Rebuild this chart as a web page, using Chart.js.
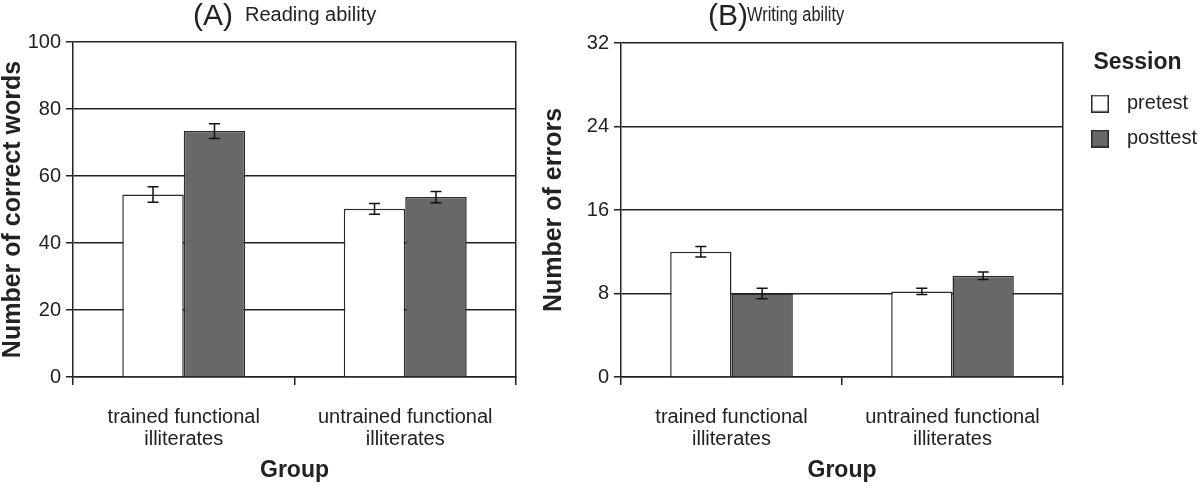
<!DOCTYPE html>
<html>
<head>
<meta charset="utf-8">
<script src="https://cdn.jsdelivr.net/npm/chart.js@4.4.1/dist/chart.umd.min.js"></script>
<style>
    html, body { margin: 0; padding: 0; background: #fff; }
    #wrap {
        position: relative; width: 1200px; height: 488px; overflow: hidden;
        font-family: 'Liberation Sans', Arial, sans-serif; color: #222;
    }
    canvas { position: absolute; top: 0; }
    #chartA { left: 0; }
    #chartB { left: 530px; }
    .panel { position: absolute; top: 0; font-size: 30px; line-height: 30px; white-space: nowrap; }
    .sub { position: absolute; font-size: 20px; line-height: 20px; white-space: nowrap; }
    .narrow { transform: scaleX(0.82); transform-origin: left top; }
</style>
</head>
<body>
<div id="wrap">
    <canvas id="chartA" width="530" height="488"></canvas>
    <canvas id="chartB" width="670" height="488"></canvas>
    <span class="panel" style="left:193px">(A)</span>
    <span class="sub" style="left:245px; top:4px">Reading ability</span>
    <span class="panel" style="left:708px">(B)</span>
    <span class="sub narrow" style="left:747px; top:4px">Writing ability</span>
</div>
<script>
// Categories
const groups = [['trained functional', 'illiterates'], ['untrained functional', 'illiterates']];

// (A) Reading ability - number of correct words
const readingPre = [54.5, 50.2];
const readingPreErr = [2.3, 1.6];
const readingPost = [73.4, 53.7];
const readingPostErr = [2.2, 1.7];

// (B) Writing ability - number of errors
const writingPre = [12.0, 8.2];
const writingPreErr = [0.5, 0.3];
const writingPost = [8.0, 9.7];
const writingPostErr = [0.5, 0.35];

const ink = '#222';
const edge = '#2b2b2b';
const preFill = '#ffffff';
const postFill = '#686868';
Chart.defaults.font.family = "'Liberation Sans', Arial, sans-serif";
Chart.defaults.color = ink;

// draws the +/- error whiskers on top of each bar
const errorBars = {
    id: 'errorBars',
    afterDatasetsDraw(chart) {
        const ctx = chart.ctx;
        const yScale = chart.scales.y;
        ctx.save();
        ctx.strokeStyle = '#111';
        ctx.lineWidth = 1.5;
        chart.data.datasets.forEach((ds, di) => {
            const meta = chart.getDatasetMeta(di);
            meta.data.forEach((bar, i) => {
                const top = yScale.getPixelForValue(ds.data[i] + ds.errors[i]);
                const bot = yScale.getPixelForValue(ds.data[i] - ds.errors[i]);
                ctx.beginPath();
                ctx.moveTo(bar.x, top); ctx.lineTo(bar.x, bot);
                ctx.moveTo(bar.x - 5.5, top); ctx.lineTo(bar.x + 5.5, top);
                ctx.moveTo(bar.x - 5.5, bot); ctx.lineTo(bar.x + 5.5, bot);
                ctx.stroke();
            });
        });
        ctx.restore();
    }
};

// legend swatch: 18px square on the left of a wider slot, so the text sits further right
function makeSwatch(fill) {
    const c = document.createElement('canvas');
    c.width = 26;
    c.height = 18;
    const g = c.getContext('2d');
    g.fillStyle = fill;
    g.fillRect(1, 1, 16, 16);
    g.strokeStyle = edge;
    g.lineWidth = 1.5;
    g.strokeRect(0.75, 0.75, 16.5, 16.5);
    return c;
}

function makeDatasets(pre, preErr, post, postErr) {
    const common = {
        borderColor: edge,
        borderWidth: 1.5,
        categoryPercentage: 0.555,
        barPercentage: 1.0,
        yAxisID: 'y'
    };
    return [
        Object.assign({ label: 'pretest', data: pre, errors: preErr, backgroundColor: preFill }, common),
        Object.assign({ label: 'posttest', data: post, errors: postErr, backgroundColor: postFill }, common)
    ];
}

function makeScales(yMax, yStep, yTitle, yWidth, yTitlePad, rightWidth) {
    return {
        x: {
            type: 'category',
            offset: true,
            grid: { display: true, offset: true, drawOnChartArea: false, drawTicks: true, tickLength: 8, color: ink, lineWidth: 1.5 },
            border: { display: true, color: ink, width: 1.5 },
            ticks: { color: ink, font: { size: 20, lineHeight: 1.1 }, padding: 21, maxRotation: 0, autoSkip: false },
            title: { display: true, text: 'Group', color: ink, font: { size: 23, weight: 'bold' }, padding: { top: 0, bottom: 4 } },
            afterFit: (s) => { s.height = 111; }
        },
        y: {
            type: 'linear',
            position: 'left',
            min: 0,
            max: yMax,
            ticks: { stepSize: yStep, padding: 5, color: ink, font: { size: 20 } },
            grid: { color: ink, lineWidth: 1.5, tickLength: 7 },
            border: { display: true, color: ink, width: 1.5 },
            title: { display: true, text: yTitle, color: ink, font: { size: 25, weight: 'bold' }, padding: { top: yTitlePad, bottom: 0 } },
            afterFit: (s) => { s.width = yWidth; }
        },
        // right-hand frame line
        yr: {
            type: 'linear',
            position: 'right',
            ticks: { display: false },
            grid: { display: true, drawOnChartArea: false, drawTicks: false },
            border: { display: true, color: ink, width: 1.5 },
            afterFit: (s) => { s.width = rightWidth; }
        }
    };
}

document.addEventListener('DOMContentLoaded', function() {
    // (A) Reading ability
    new Chart(document.getElementById('chartA').getContext('2d'), {
        type: 'bar',
        data: {
            labels: groups,
            datasets: makeDatasets(readingPre, readingPreErr, readingPost, readingPostErr)
        },
        options: {
            responsive: false,
            animation: false,
            layout: { padding: { top: 42, right: 14, bottom: 0, left: 0 } },
            plugins: {
                legend: { display: false },
                tooltip: { enabled: false }
            },
            scales: makeScales(100, 20, 'Number of correct words', 73, -2, 0)
        },
        plugins: [errorBars]
    });

    // (B) Writing ability
    const swatches = [makeSwatch(preFill), makeSwatch(postFill)];
    new Chart(document.getElementById('chartB').getContext('2d'), {
        type: 'bar',
        data: {
            labels: groups,
            datasets: makeDatasets(writingPre, writingPreErr, writingPost, writingPostErr)
        },
        options: {
            responsive: false,
            animation: false,
            layout: { padding: { top: 43, right: 1, bottom: 0, left: 0 } },
            plugins: {
                legend: {
                    display: true,
                    position: 'right',
                    align: 'start',
                    maxWidth: 123,
                    title: {
                        display: true,
                        text: 'Session',
                        position: 'center',
                        color: ink,
                        font: { size: 23, weight: 'bold' },
                        padding: { top: 8, bottom: 0 }
                    },
                    labels: {
                        usePointStyle: true,
                        pointStyleWidth: 26,
                        boxHeight: 18,
                        padding: 15,
                        color: ink,
                        font: { size: 20 },
                        generateLabels: (chart) => {
                            const items = Chart.defaults.plugins.legend.labels.generateLabels(chart);
                            items.forEach((item, i) => { item.pointStyle = swatches[i]; });
                            return items;
                        }
                    }
                },
                tooltip: { enabled: false }
            },
            scales: makeScales(32, 8, 'Number of errors', 91, 9, 13)
        },
        plugins: [errorBars]
    });
});
</script>
</body>
</html>
